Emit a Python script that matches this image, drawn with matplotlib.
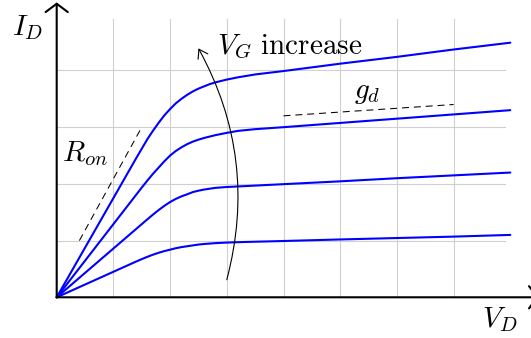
import matplotlib
matplotlib.use("Agg")
import matplotlib.pyplot as plt
from matplotlib.patches import FancyArrowPatch

plt.rcParams['mathtext.fontset'] = 'cm'

# output characteristics, one list per gate voltage (lowest to highest)
vd_1 = [0, 0.5, 1.0, 1.3, 1.4, 1.5, 1.6, 1.7, 1.8, 1.9, 2.0, 2.1, 2.2, 2.3, 2.4, 2.5,
        2.6, 2.8, 3.0, 3.3, 3.9, 5.0, 6.0, 7.0, 8.0]
id_1 = [0, 0.225, 0.45, 0.585, 0.63, 0.673, 0.714, 0.752, 0.786, 0.815, 0.84, 0.865,
        0.885, 0.90, 0.915, 0.93, 0.94, 0.955, 0.965, 0.975, 0.99, 1.02, 1.045, 1.07, 1.10]

vd_2 = [0, 0.5, 1.0, 1.6, 1.7, 1.8, 1.9, 2.0, 2.1, 2.2, 2.3, 2.4, 2.5, 2.6, 2.7, 2.8,
        3.0, 3.2, 3.5, 4.0, 5.0, 6.0, 7.0, 8.0]
id_2 = [0, 0.43, 0.86, 1.376, 1.46, 1.54, 1.614, 1.68, 1.735, 1.78, 1.816, 1.855, 1.88,
        1.90, 1.915, 1.93, 1.945, 1.955, 1.97, 1.995, 2.045, 2.10, 2.15, 2.20]

vd_3 = [0, 0.5, 1.0, 1.5, 1.6, 1.7, 1.8, 1.9, 2.0, 2.1, 2.2, 2.3, 2.4, 2.5, 2.6, 2.7,
        2.8, 3.0, 3.2, 3.5, 4.0, 5.0, 6.0, 7.0, 8.0]
id_3 = [0, 0.645, 1.29, 1.935, 2.06, 2.18, 2.29, 2.40, 2.50, 2.58, 2.645, 2.70, 2.745,
        2.78, 2.81, 2.835, 2.86, 2.90, 2.935, 2.965, 3.00, 3.075, 3.15, 3.225, 3.30]

vd_4 = [0, 0.5, 1.0, 1.4, 1.5, 1.6, 1.7, 1.8, 1.9, 2.0, 2.1, 2.2, 2.3, 2.4, 2.5, 2.6,
        2.7, 2.8, 3.0, 3.2, 3.5, 4.0, 5.0, 6.0, 7.0, 8.0]
id_4 = [0, 0.875, 1.75, 2.45, 2.62, 2.79, 2.94, 3.08, 3.21, 3.32, 3.42, 3.50, 3.57,
        3.63, 3.68, 3.72, 3.76, 3.79, 3.84, 3.88, 3.93, 3.99, 4.12, 4.24, 4.37, 4.49]

curves = [(vd_1, id_1), (vd_2, id_2), (vd_3, id_3), (vd_4, id_4)]

# tangent guides
ron_x = [0.4, 1.5]
ron_y = [1.0, 3.0]
gd_x = [4.0, 7.0]
gd_y = [3.2, 3.4]

fig = plt.figure(figsize=(5.31, 3.38), dpi=100)
ax = fig.add_axes([0, 0, 1, 1])
ax.set_xlim(-1.0, 8.365)
ax.set_ylim(-0.718, 5.243)
ax.axis('off')

# help grid
for gx in range(1, 8):
    ax.plot([gx, gx], [0, 4.9], color='#d0d0d0', lw=0.8, zorder=1)
for gy in range(1, 5):
    ax.plot([0, 7.9], [gy, gy], color='#d0d0d0', lw=0.8, zorder=1)

# axes with arrow heads
for end in [(0, 5.2), (8.5, 0)]:
    ax.add_patch(FancyArrowPatch((0, 0), end, arrowstyle='->,head_length=0.3,head_width=0.4',
                                 mutation_scale=20, lw=1.5, color='black', zorder=4,
                                 shrinkA=0, shrinkB=0))

for vd, idv in curves:
    ax.plot(vd, idv, color='#0000ff', lw=1.5, zorder=3,
            solid_capstyle='round', solid_joinstyle='round')

ax.plot(ron_x, ron_y, color='black', lw=0.75, ls=(0, (6.7, 4.7)), zorder=2)
ax.plot(gd_x, gd_y, color='black', lw=0.75, ls=(0, (6.7, 4.7)), zorder=2)

ax.add_patch(FancyArrowPatch((3.0, 0.31), (2.5, 4.39), connectionstyle='arc3,rad=0.2',
                             arrowstyle='->,head_length=0.3,head_width=0.2',
                             mutation_scale=20, lw=0.8, color='black', zorder=4,
                             shrinkA=0, shrinkB=0))

fs = 21
ax.text(-0.51, 4.76, r'$I_D$', fontsize=fs, ha='center', va='center')
ax.text(7.82, -0.40, r'$V_D$', fontsize=fs, ha='center', va='center')
ax.text(0.50, 2.54, r'$R_{on}$', fontsize=fs, ha='center', va='center')
ax.text(5.48, 3.62, r'$g_d$', fontsize=fs, ha='center', va='center')
ax.text(2.82, 4.41, r'$V_G\ \mathrm{increase}$', fontsize=fs, ha='left', va='center')

fig.savefig('out.png', dpi=100)
